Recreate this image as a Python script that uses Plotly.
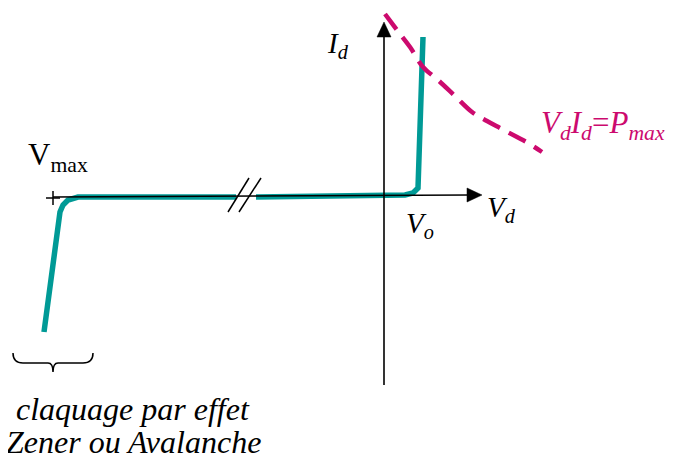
import plotly.graph_objects as go

# Diode characteristic (schematic units, origin at axis crossing, y up)
rev_v = [-340, -324, -321, -316, -306, -148]
rev_i = [-137, -17, -10, -5, -2, -2]
fwd_v = [-128, 21, 29, 34, 39]
fwd_i = [-2, 0, 2, 7, 158]

# Max power hyperbola Vd*Id = Pmax
pmax_v = [1, 13, 26, 39, 54, 71, 88, 103, 116, 133, 144, 158]
pmax_i = [181, 165, 148, 128, 115, 99, 83, 74, 67, 58, 52, 43]

TEAL = "#009A96"
PINK = "#CC0A6E"
FONT = "Liberation Serif"

fig = go.Figure()

# axes lines
fig.add_shape(type="line", x0=-331, y0=-2, x1=85, y1=0, line=dict(color="black", width=1.6))
fig.add_shape(type="line", x0=0, y0=-190, x1=0, y1=160, line=dict(color="black", width=1.6))
# arrowheads
fig.add_shape(type="path", path="M 98 0 L 83 -7 L 83 7 Z", fillcolor="black", line=dict(color="black", width=0.5))
fig.add_shape(type="path", path="M 0 173 L -7 158 L 7 158 Z", fillcolor="black", line=dict(color="black", width=0.5))

fig.add_trace(go.Scatter(x=rev_v, y=rev_i, mode="lines", line=dict(color=TEAL, width=5.5), hoverinfo="skip"))
fig.add_trace(go.Scatter(x=fwd_v, y=fwd_i, mode="lines", line=dict(color=TEAL, width=5.5), hoverinfo="skip"))
fig.add_trace(go.Scatter(x=pmax_v, y=pmax_i, mode="lines",
                         line=dict(color=PINK, width=4.5, dash="19px,10px", shape="spline"), hoverinfo="skip"))

# break marks
fig.add_shape(type="line", x0=-156, y0=-17, x1=-135, y1=17, line=dict(color="black", width=1.5))
fig.add_shape(type="line", x0=-145, y0=-17, x1=-123, y1=17, line=dict(color="black", width=1.5))

# Vmax tick "+"
fig.add_shape(type="line", x0=-338, y0=-3, x1=-324, y1=-3, line=dict(color="black", width=1.5))
fig.add_shape(type="line", x0=-331, y0=-10, x1=-331, y1=4, line=dict(color="black", width=1.5))

# brace
fig.add_shape(type="path",
              path="M -371 -158 Q -371 -168 -361 -168 L -336 -168 Q -331 -168 -331 -177 "
                   "Q -331 -168 -326 -168 L -301 -168 Q -291 -168 -291 -158",
              line=dict(color="black", width=1.5))

def ann(x, y, text, size, color="black"):
    fig.add_annotation(x=x, y=y, text=text, showarrow=False,
                       font=dict(family=FONT, size=size, color=color))

ann(-46, 150, "<i>I</i><sub><i>d</i></sub>", 29)
ann(117, -14, "<i>V</i><sub><i>d</i></sub>", 29)
ann(36, -30, "<i>V</i><sub><i>o</i></sub>", 29)
ann(219, 70, "<i>V</i><sub><i>d</i></sub><i>I</i><sub><i>d</i></sub>=<i>P</i><sub><i>max</i></sub>", 31, PINK)
ann(-326, 38, "V<sub>max</sub>", 31)
ann(-251, -214, "<i>claquage par effet</i>", 32)
ann(-251, -247, "<i>Zener ou Avalanche</i>", 32)

# page body has an 8px margin: shrink the figure so the drawing lands where it should
fig.update_layout(
    width=672, height=451, margin=dict(l=0, r=0, t=0, b=0),
    paper_bgcolor="white", plot_bgcolor="white", showlegend=False,
    xaxis=dict(range=[-376, 296], visible=False, fixedrange=True),
    yaxis=dict(range=[-264, 187], visible=False, fixedrange=True),
)
fig.write_html("out.html")
